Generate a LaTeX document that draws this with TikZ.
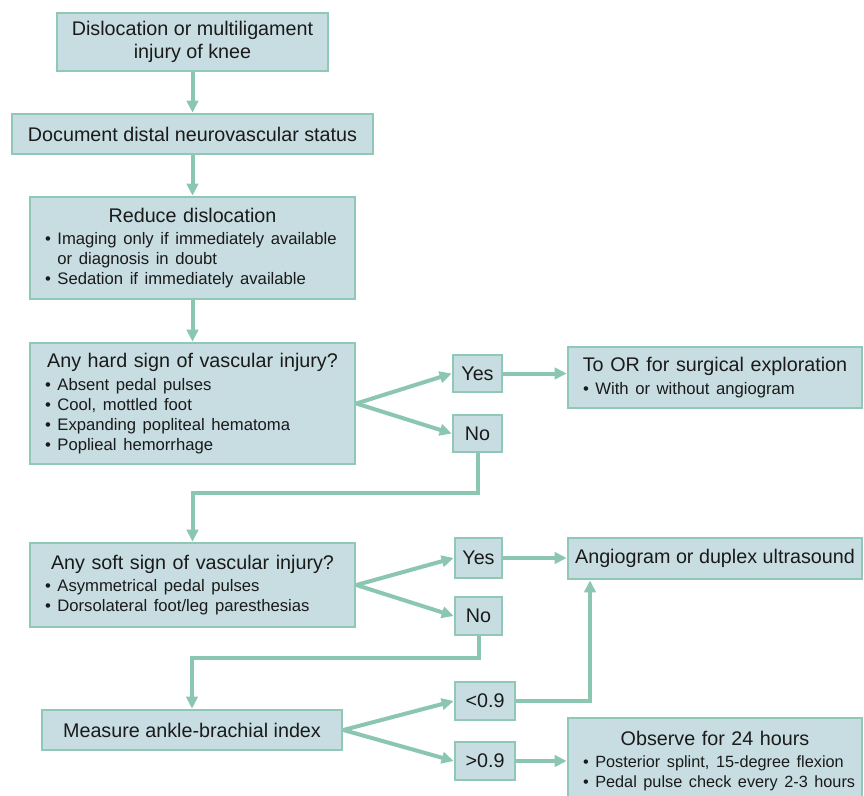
\documentclass[tikz,border=0pt]{standalone}
\usepackage{fontspec}
\setmainfont{Liberation Sans}
\usetikzlibrary{arrows.meta}
\definecolor{boxfill}{HTML}{C7DDE2}
\definecolor{bord}{HTML}{8FC8B6}
\definecolor{arrc}{HTML}{8BC6B1}
\definecolor{txt}{HTML}{1A1A1A}
\newcommand{\ttl}{\fontsize{14.8}{17}\selectfont}
\newcommand{\bul}{\fontsize{12.5}{15}\selectfont\raggedright\hyphenpenalty=10000 }
\newcommand{\bi}{\textbullet\ }
\newcommand{\hd}[1]{\makebox[\linewidth][c]{#1}\par\vspace{2pt}}
\begin{document}
\begin{tikzpicture}[x=0.75pt,y=-0.75pt,
  box/.style={draw=bord, fill=boxfill, line width=2pt, text=txt, inner xsep=11.25pt, inner ysep=0pt, align=center, font=\ttl},
  listbox/.style={box, align=left},
  arr/.style={draw=arrc, line width=3pt, -{Triangle[length=9pt,width=8.5pt]}}]
\useasboundingbox (0,0) rectangle (864,796);
\node[box, minimum width=203.25pt, minimum height=43.5pt] (b1) at (192.5,42) {Dislocation or multiligament\\injury of knee};
\node[box, minimum width=270.75pt, minimum height=30pt, inner xsep=0pt] (b2) at (192.5,134) {Document distal neurovascular status};
\node[listbox, minimum width=243.75pt, minimum height=76.5pt, text width=221.25pt] (b3) at (192.5,248) {\hd{Reduce dislocation}\bul\bi Imaging only if immediately available\\\phantom{\bi}or diagnosis in doubt\\\bi Sedation if immediately available\par};
\node[listbox, minimum width=243.75pt, minimum height=90.75pt, text width=221.25pt] (b4) at (192.5,403.5) {\hd{Any hard sign of vascular injury?}\bul\bi Absent pedal pulses\\\bi Cool, mottled foot\\\bi Expanding popliteal hematoma\\\bi Poplieal hemorrhage\par};
\node[box, minimum width=36.75pt, minimum height=27.75pt, inner xsep=0pt] (y1) at (477.5,373.5) {Yes};
\node[box, minimum width=36.75pt, minimum height=27.75pt, inner xsep=0pt] (n1) at (477.5,433.5) {No};
\node[listbox, minimum width=220.5pt, minimum height=45.75pt, text width=198pt] (or) at (715,377.5) {\hd{To OR for surgical exploration}\bul\bi With or without angiogram\par};
\node[listbox, minimum width=243.75pt, minimum height=63pt, text width=221.25pt] (b5) at (192.5,585) {\hd{Any soft sign of vascular injury?}\bul\bi Asymmetrical pedal pulses\\\bi Dorsolateral foot/leg paresthesias\par};
\node[box, minimum width=35.25pt, minimum height=30pt, inner xsep=0pt] (y2) at (478.5,558) {Yes};
\node[box, minimum width=35.25pt, minimum height=28.5pt, inner xsep=0pt] (n2) at (478.5,616) {No};
\node[box, minimum width=220.5pt, minimum height=30.75pt, inner xsep=0pt] (ang) at (715,558.5) {Angiogram or duplex ultrasound};
\node[box, minimum width=225pt, minimum height=30pt, inner xsep=0pt] (abi) at (192,730) {Measure ankle-brachial index};
\node[box, minimum width=45pt, minimum height=28.5pt, inner xsep=0pt] (lt) at (485,701) {<0.9};
\node[box, minimum width=45pt, minimum height=28.5pt, inner xsep=0pt] (gt) at (485,761) {>0.9};
\node[listbox, minimum width=220.5pt, minimum height=64.5pt, text width=214pt, inner xsep=3pt] (obs) at (715,761) {\hd{Observe for 24 hours}\bul\fontsize{12.2}{15}\selectfont\hspace*{8pt}\mbox{\bi Posterior splint, 15-degree flexion}\\\hspace*{8pt}\mbox{\bi Pedal pulse check every 2-3 hours}\par};
\coordinate (k1) at (0,493);
\coordinate (k2) at (0,658);
\coordinate (k3) at (590,0);
\draw[arr] (b1) -- (b2);
\draw[arr] (b2) -- (b3);
\draw[arr] (b3) -- (b4);
\draw[arr] (b4.east) -- (y1.west);
\draw[arr] (b4.east) -- (n1.west);
\draw[arr] (y1.east) -- (y1.east -| or.west);
\draw[arr] (n1.south) -- (n1.south |- k1) -| (b5.north);
\draw[arr] (b5.east) -- (y2.west);
\draw[arr] (b5.east) -- (n2.west);
\draw[arr] (y2.east) -- (y2.east -| ang.west);
\draw[arr] (n2.south) -- (n2.south |- k2) -| (abi.north);
\draw[arr] (abi.east) -- (lt.west);
\draw[arr] (abi.east) -- (gt.west);
\draw[arr] (lt.east) -| (k3 |- ang.south);
\draw[arr] (gt.east) -- (gt.east -| obs.west);
\end{tikzpicture}
\end{document}
